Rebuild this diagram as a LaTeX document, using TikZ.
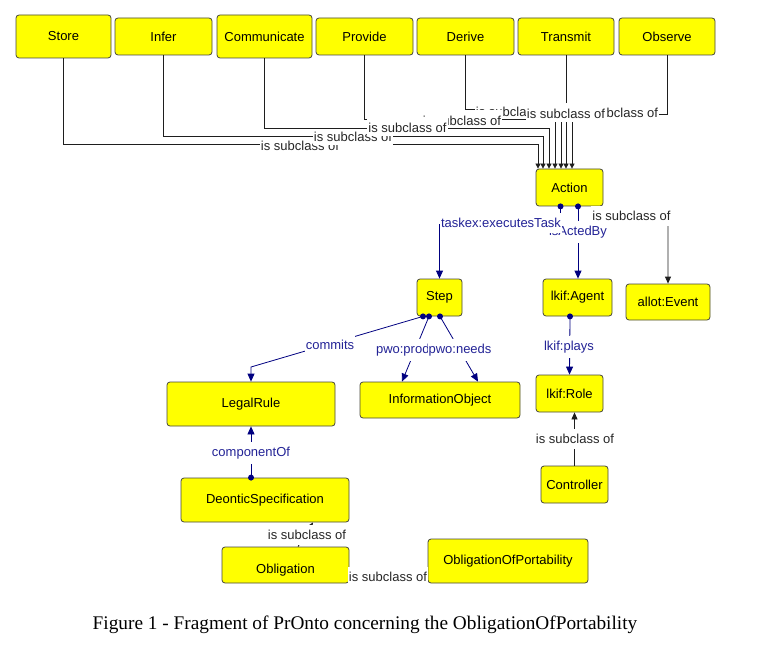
\documentclass[tikz,border=0pt]{standalone}
\usepackage{fontspec}
\setmainfont{Liberation Serif}
\newfontfamily\lsans{Liberation Sans}
\usetikzlibrary{arrows.meta}
\definecolor{boxyellow}{RGB}{255,255,0}
\definecolor{boxborder}{RGB}{70,70,60}
\definecolor{navyline}{RGB}{0,0,128}
\definecolor{navytext}{RGB}{35,35,150}
\definecolor{blackline}{RGB}{30,30,30}
\tikzset{
  cls/.style={draw=boxborder, fill=boxyellow, rounded corners=3pt, line width=0.8pt, inner sep=0pt, font=\lsans\fontsize{13}{15}\selectfont, text=black},
  sub/.style={draw=blackline, line width=0.8pt},
  subarr/.style={sub, -{Triangle[width=5pt,length=5pt]}},
  subarrb/.style={sub, -{Triangle[width=6pt,length=7pt]}},
  rel/.style={draw=navyline, line width=0.8pt, -{Triangle[width=7pt,length=8pt]}},
  lbl/.style={fill=white, inner xsep=1pt, inner ysep=5pt, font=\lsans\fontsize{13}{15}\selectfont, text=black!85},
  tlbl/.style={fill=white, anchor=base, inner xsep=1pt, inner ysep=2pt, text height=14pt, text depth=1pt, font=\lsans\fontsize{13}{15}\selectfont, text=black!85},
  rlbl/.style={lbl, text=navytext},
}
\begin{document}
\begin{tikzpicture}[x=1pt,y=-1pt]
\useasboundingbox (0,0) rectangle (757,652);
% top row
\node[cls, minimum width=95pt, minimum height=43pt] (store) at (63.5,36.5) {Store};
\node[cls, minimum width=97pt, minimum height=37pt] (infer) at (163.5,36.5) {Infer};
\node[cls, minimum width=95pt, minimum height=43pt] (comm) at (264.5,36.5) {Communicate};
\node[cls, minimum width=97pt, minimum height=37pt] (prov) at (364.5,36.5) {Provide};
\node[cls, minimum width=97pt, minimum height=37pt] (der) at (465.5,36.5) {Derive};
\node[cls, minimum width=96pt, minimum height=37pt] (trans) at (566,36.5) {Transmit};
\node[cls, minimum width=96pt, minimum height=37pt] (obs) at (667,36.5) {Observe};
% other classes
\node[cls, minimum width=67pt, minimum height=37pt] (action) at (569.5,187.5) {Action};
\node[cls, minimum width=45pt, minimum height=37pt] (step) at (439.5,297.5) {Step};
\node[cls, minimum width=69pt, minimum height=37pt] (agent) at (577.5,297.5) {lkif:Agent};
\node[cls, minimum width=84pt, minimum height=36pt] (event) at (668,302) {allot:Event};
\node[cls, minimum width=168pt, minimum height=44pt] (legal) at (251,404) {LegalRule};
\node[cls, minimum width=160pt, minimum height=36pt] (info) at (440,400) {InformationObject};
\node[cls, minimum width=67pt, minimum height=37pt] (role) at (569.5,393.5) {lkif:Role};
\node[cls, minimum width=67pt, minimum height=37pt] (ctrl) at (574.5,484.5) {Controller};
\node[cls, minimum width=168pt, minimum height=44pt] (deontic) at (265,500) {DeonticSpecification};
\node[cls, minimum width=127pt, minimum height=36pt, text height=18pt, text depth=2pt] (oblig) at (285.5,565) {Obligation};
\node[cls, minimum width=160pt, minimum height=44pt] (oop) at (508,561) {ObligationOfPortability};

% subclass links into Action (drawn in stacking order)
\draw[subarr] (obs.south) -- (667,114) -| ([xshift=2.5pt]action.north);
\node[tlbl] (lobs) at (619,117.75) {is subclass of};
\draw[subarr] (der.south) -- (465.5,109) -| ([xshift=-8.5pt]action.north);
\node[tlbl] (lder) at (515,116.75) {is subclass of};
\draw[subarr] (prov.south) -- (364.5,119) -| ([xshift=-14.5pt]action.north);
\node[tlbl] (lprov) at (462,125.75) {is subclass of};
\draw[subarr] (trans.south) -- ([xshift=-3.5pt]action.north);
\node[tlbl] (ltrans) at (566,118.75) {is subclass of};
\draw[subarr] (store.south) -- (63.5,144) -| ([xshift=-31.5pt]action.north);
\node[tlbl] (lstore) at (300,150.75) {is subclass of};
\draw[subarr] (infer.south) -- (163.5,136) -| ([xshift=-26.5pt]action.north);
\node[tlbl] (linfer) at (353,141.75) {is subclass of};
\draw[subarr] (comm.south) -- (264.5,128) -| ([xshift=-20.5pt]action.north);
\node[tlbl] (lcomm) at (407.5,132.75) {is subclass of};

% Action relations
\draw[rel] ([xshift=8.5pt]action.south) -- ([xshift=0.5pt]agent.north);
\node[rlbl] (lacted) at (578,232) {isActedBy};
\draw[rel] ([xshift=-9pt]action.south) -- ++(0,18) -| (step.north);
\node[rlbl] (ltask) at (501,223) {taskex:executesTask};
\fill[navyline] ([xshift=-9pt]action.south) circle (3pt);
\fill[navyline] ([xshift=8.5pt]action.south) circle (3pt);
\draw[subarrb] (action.south east) -- (668,215) -- (event.north);
\node[lbl] (levent) at (631.5,216) {is subclass of};

% Step relations
\draw[rel] ([xshift=-16.5pt]step.south) -- (251,367) -- (legal.north);
\node[rlbl] (lcommits) at (330,345) {commits};
\draw[rel] ([xshift=-10.5pt]step.south) -- ([xshift=-38pt]info.north);
\node[rlbl] (lprod) at (416.5,350) {pwo:produces};
\draw[rel] ([xshift=0.5pt]step.south) -- ([xshift=38pt]info.north);
\node[rlbl] (lneeds) at (460,350) {pwo:needs};
\fill[navyline] ([xshift=-16.5pt]step.south) circle (3pt);
\fill[navyline] ([xshift=-10.5pt]step.south) circle (3pt);
\fill[navyline] ([xshift=0.5pt]step.south) circle (3pt);

% Agent -> Role
\draw[rel] ([xshift=-7.5pt]agent.south) -- (role.north);
\node[rlbl] (lplays) at (569,347) {lkif:plays};
\fill[navyline] ([xshift=-7.5pt]agent.south) circle (3pt);

% Controller -> Role
\draw[subarrb] (ctrl.north) -- (role.south -| ctrl.north);
\node[lbl] (lctrl) at (575,439) {is subclass of};

% DeonticSpecification -> LegalRule
\draw[rel] ([xshift=-14pt]deontic.north) -- (legal.south);
\node[rlbl] (lcomp) at (251,453) {componentOf};
\fill[navyline] ([xshift=-14pt]deontic.north) circle (3pt);

% Obligation -> DeonticSpecification
\draw[subarrb] ([xshift=12.5pt]oblig.north) -- ([xshift=48pt]deontic.south);
\node[lbl] (lobl) at (307,535) {is subclass of};

% ObligationOfPortability -> Obligation
\draw[subarrb] ([yshift=-14pt]oop.west) -- ([yshift=-10pt]oblig.east);
\node[lbl] (loop) at (388,577) {is subclass of};

% caption
\node[anchor=base west, inner sep=0pt, font=\fontsize{19.3}{22}\selectfont] (cap) at (92.5,629) {Figure 1 - Fragment of PrOnto concerning the ObligationOfPortability};
\end{tikzpicture}
\end{document}
